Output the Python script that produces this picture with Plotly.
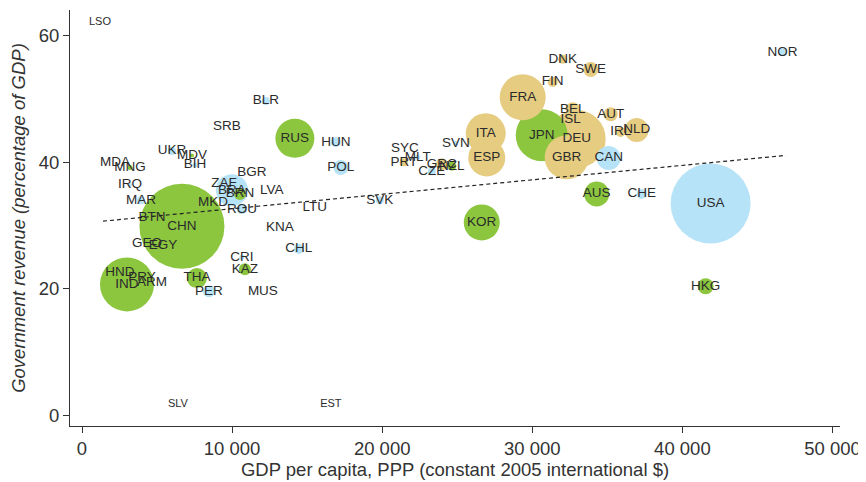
import plotly.graph_objects as go

# country codes, GDP per capita (PPP, 2005 $), revenue (% of GDP), bubble size, colour group
countries = ["USA", "CHN", "DEU", "IND", "JPN", "FRA", "GBR", "ITA", "RUS", "ESP",
             "KOR", "BRA", "AUS", "CAN", "NLD", "THA", "HKG", "SWE", "POL", "BEL",
             "AUT", "KAZ", "PER", "BRN", "GRC", "FIN", "HUN", "ROU", "CHE", "IRL",
             "CHL", "DNK", "NZL", "PRT", "UKR", "MAR", "BLR", "CZE", "SVK", "NOR",
             "MNG", "BIH", "CRI", "MLT", "SVN", "MDV", "IRQ", "ZAF",
             "MDA", "BTN", "GEO", "EGY", "HND", "PRY", "ARM", "MUS", "KNA", "MKD",
             "BGR", "LVA", "LTU", "SRB", "SYC", "ISL", "LSO", "SLV", "EST"]
gdp_pc = [41879, 6658, 32957, 2996, 30627, 29362, 32291, 26898, 14182, 26965,
          26632, 9988, 34289, 35088, 36952, 7657, 41546, 33889, 17244, 32691,
          35221, 10853, 8456, 10520, 23969, 31359, 16911, 10653, 37285, 35887,
          14448, 32025, 24635, 21439, 5992, 3928, 12251, 23303, 19841, 46673,
          3196, 7524, 10653, 22371, 24901, 7324, 3196, 9454,
          2197, 4661, 4328, 5393, 2530, 3995, 4661, 12051, 13183, 8722,
          11319, 12650, 15513, 9654, 21505, 32558, 1198, 6392, 16578]
revenue = [33.5, 29.9, 43.7, 20.7, 44.3, 50.3, 40.8, 44.6, 43.8, 40.7,
           30.5, 35.6, 35.0, 40.7, 45.1, 21.7, 20.4, 54.7, 39.2, 48.4,
           47.6, 23.1, 19.6, 35.0, 39.7, 52.7, 43.2, 32.6, 35.0, 44.8,
           26.3, 56.3, 39.4, 40.0, 41.8, 34.0, 49.7, 38.6, 34.0, 57.4,
           39.2, 39.6, 25.0, 40.8, 43.0, 41.1, 36.4, 36.7,
           39.9, 31.3, 27.2, 26.9, 22.6, 21.8, 20.9, 19.5, 29.7, 33.7,
           38.3, 35.6, 32.8, 45.6, 42.2, 46.7, 62.2, 1.7, 1.7]
bubble = [80, 85, 58, 54, 52, 46, 44, 40, 39, 37,
          36, 32, 25, 24, 24, 20, 16, 15, 15, 14,
          14, 12, 12, 12, 12, 10, 10, 10, 10, 10,
          10, 9, 9, 8, 8, 8, 8, 8, 8, 8,
          5, 5, 5, 5, 5, 4, 4, 4,
          0, 0, 0, 0, 0, 0, 0, 0, 0, 0,
          0, 0, 0, 0, 0, 0, 0, 0, 0]
group = ["B", "G", "T", "G", "G", "T", "T", "T", "G", "T",
         "G", "B", "G", "B", "T", "G", "G", "T", "B", "T",
         "T", "G", "B", "G", "T", "T", "B", "B", "B", "T",
         "B", "T", "G", "T", "B", "B", "B", "B", "B", "B",
         "G", "B", "B", "B", "B", "G", "B", "B",
         "B", "B", "B", "B", "B", "B", "B", "B", "B", "B",
         "B", "B", "B", "B", "B", "B", "B", "B", "B"]
small_label = ["LSO", "SLV", "EST"]

trend_x = [1400, 46900]
trend_y = [30.7, 41.1]

x_ticks = [0, 10000, 20000, 30000, 40000, 50000]
x_ticktext = ["0", "10 000", "20 000", "30 000", "40 000", "50 000"]
y_ticks = [0, 20, 40, 60]

palette = {"B": "#b7e3f8", "G": "#8cc63f", "T": "#e6cc80"}

fig = go.Figure()
fig.add_trace(go.Scatter(
    x=gdp_pc, y=revenue, mode="markers+text", text=countries,
    textposition="middle center",
    textfont=dict(family="Liberation Sans, Arial", color="#2b2b2b",
                  size=[11 if c in small_label else 13.5 for c in countries]),
    marker=dict(size=bubble, sizemode="diameter", color=[palette[g] for g in group],
                opacity=1, line=dict(width=0)),
    hoverinfo="text", showlegend=False))
fig.add_trace(go.Scatter(
    x=trend_x, y=trend_y, mode="lines",
    line=dict(color="#222222", width=1.2, dash="4px,3px"),
    hoverinfo="skip", showlegend=False))

# page body has an 8px margin, so the figure is a little smaller than the window
fig.update_layout(
    width=858, height=474,
    margin=dict(l=62, r=26, t=2, b=56),
    plot_bgcolor="white", paper_bgcolor="white",
    font=dict(family="Liberation Sans, Arial", color="#333333", size=18.5),
)
fig.update_xaxes(range=[-800, 50500], tickvals=x_ticks, ticktext=x_ticktext,
                 automargin=False,
                 showgrid=False, zeroline=False, showline=True, linecolor="#333333",
                 linewidth=1, ticks="outside", ticklen=6, tickcolor="#333333",
                 title=dict(text="GDP per capita, PPP (constant 2005 international $)",
                            font=dict(size=18.5), standoff=3))
fig.update_yaxes(range=[-1.7, 64.1], tickvals=y_ticks, automargin=False,
                 showgrid=False, zeroline=False, showline=True, linecolor="#333333",
                 linewidth=1, ticks="outside", ticklen=6, tickcolor="#333333",
                 title=dict(text="<i>Government revenue (percentage of GDP)</i>",
                            font=dict(size=18.5), standoff=10))

fig.write_html("out.html")
